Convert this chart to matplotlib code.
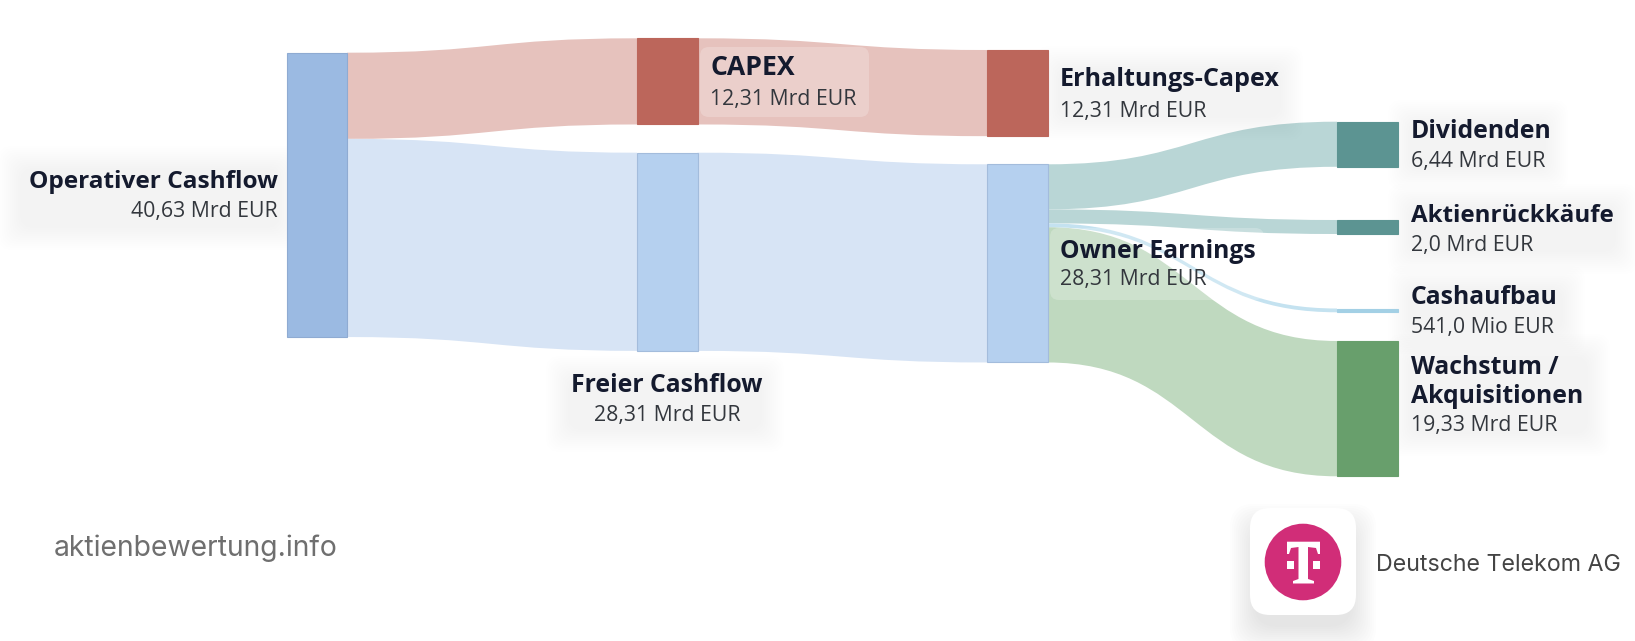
import matplotlib
matplotlib.use("Agg")
import matplotlib.pyplot as plt
from matplotlib.patches import Rectangle, PathPatch, FancyBboxPatch, Circle, Polygon
from matplotlib.path import Path

# values in Mrd EUR
operativer_cashflow = 40.63
capex = 12.31
erhaltungs_capex = 12.31
freier_cashflow = 28.31
owner_earnings = 28.31
dividenden = 6.44
aktienrueckkaeufe = 2.0
cashaufbau = 0.541
wachstum = 19.33

value_labels = ["40,63 Mrd EUR", "12,31 Mrd EUR", "12,31 Mrd EUR", "28,31 Mrd EUR",
                "28,31 Mrd EUR", "6,44 Mrd EUR", "2,0 Mrd EUR", "541,0 Mio EUR", "19,33 Mrd EUR"]

PX_PER_MRD = 7.0
NODE_W = 60.5
COL_X = [286.5, 637, 987, 1337]

C_OP = "#9bbae2"
C_FCF = "#b5d0ef"
C_FCF_LINK = "#d7e4f5"
C_RED = "#bc665b"
C_RED_LINK = "#e6c2bd"
C_TEAL = "#5c9492"
C_TEAL_LINK = "#b9d6d6"
C_CASH = "#a3d0e5"
C_CASH_LINK = "#c4e2f0"
C_GREEN = "#689f6c"
C_GREEN_LINK = "#bfd9bf"
C_DARK = "#141a2e"
C_SUB = "#33373d"

plt.rcParams["font.family"] = ["Open Sans", "DejaVu Sans"]

fig = plt.figure(figsize=(16.35, 6.41), dpi=100)
ax = fig.add_axes([0, 0, 1, 1])
ax.set_xlim(0, 1635)
ax.set_ylim(641, 0)
ax.axis("off")


def node(col, top, value, color, edge=None):
    h = value * PX_PER_MRD
    ax.add_patch(Rectangle((COL_X[col], top), NODE_W, h, fc=color, ec=edge or color, lw=0.8, zorder=3))


def link(col, y0, y1, value, color, z=1):
    h = value * PX_PER_MRD
    x0 = COL_X[col] + NODE_W
    x1 = COL_X[col + 1]
    xm = (x0 + x1) / 2
    verts = [(x0, y0), (xm, y0), (xm, y1), (x1, y1),
             (x1, y1 + h), (xm, y1 + h), (xm, y0 + h), (x0, y0 + h), (x0, y0)]
    codes = [Path.MOVETO, Path.CURVE4, Path.CURVE4, Path.CURVE4,
             Path.LINETO, Path.CURVE4, Path.CURVE4, Path.CURVE4, Path.CLOSEPOLY]
    ax.add_patch(PathPatch(Path(verts, codes), fc=color, ec="none", zorder=z))


def soft_box(x, y, w, h, z=2):
    # faint glow behind the labels, stacked boxes fading out
    for grow in range(16, -8, -2):
        ax.add_patch(FancyBboxPatch((x - grow, y - grow), w + 2 * grow, h + 2 * grow,
                                    boxstyle="round,pad=0,rounding_size=14", fc="#8a8f98",
                                    ec="none", alpha=0.0025, zorder=z))


def label(x, y_title, y_sub, title, sub, ha="left", size=17.8):
    ax.text(x, y_title, title, ha=ha, va="center", fontsize=size, fontweight="bold", color=C_DARK, zorder=7,
            linespacing=1.17)
    ax.text(x, y_sub, sub, ha=ha, va="center", fontsize=15.3, color=C_SUB, zorder=7)


# label backgrounds
soft_box(14, 162, 272, 72)
soft_box(562, 372, 206, 64)
soft_box(1052, 62, 235, 62)
soft_box(1404, 116, 148, 58)
soft_box(1404, 200, 218, 58)
soft_box(1404, 282, 165, 56)
soft_box(1404, 350, 190, 90)

# links
y_red0, y_fcf0 = 52.7, 52.7 + capex * PX_PER_MRD
link(0, y_red0, 38.3, capex, C_RED_LINK)
link(0, y_fcf0, 152.7, freier_cashflow, C_FCF_LINK)
link(1, 38.3, 50, erhaltungs_capex, C_RED_LINK)
link(1, 152.7, 164.3, freier_cashflow, C_FCF_LINK)

y = 164.3
link(2, y, 121.7, dividenden, C_TEAL_LINK)
y += dividenden * PX_PER_MRD
link(2, y, 220, aktienrueckkaeufe, C_TEAL_LINK)
y += aktienrueckkaeufe * PX_PER_MRD
link(2, y, 308.5, cashaufbau, C_CASH_LINK, z=2)
y += cashaufbau * PX_PER_MRD
link(2, y, 341, wachstum, C_GREEN_LINK)

# nodes
node(0, 52.7, operativer_cashflow, C_OP, "#8fabd2")
node(1, 38.3, capex, C_RED)
node(1, 152.7, freier_cashflow, C_FCF, "#a3bcdc")
node(2, 50, erhaltungs_capex, C_RED)
node(2, 164.3, owner_earnings, C_FCF, "#a3bcdc")
node(3, 121.7, dividenden, C_TEAL)
node(3, 220, aktienrueckkaeufe, C_TEAL)
node(3, 308.5, cashaufbau, C_CASH)
node(3, 341, wachstum, C_GREEN)

for bx, by, bw, bh in [(700, 47, 169, 70), (1050, 228, 214, 72)]:
    ax.add_patch(FancyBboxPatch((bx, by), bw, bh, boxstyle="round,pad=0,rounding_size=9",
                                fc="white", ec="none", alpha=0.22, zorder=4))

# labels
label(278, 182, 212, "Operativer Cashflow", value_labels[0], ha="right", size=17.6)
label(710, 68, 99, "CAPEX", value_labels[1], size=19.2)
label(1060, 80, 111, "Erhaltungs-Capex", value_labels[2], size=18.1)
label(667, 386, 415, "Freier Cashflow", value_labels[3], ha="center")
label(1060, 251, 280, "Owner Earnings", value_labels[4])
label(1411, 131, 161, "Dividenden", value_labels[5])
label(1411, 216, 245, "Aktienrückkäufe", value_labels[6], size=17.4)
label(1411, 298, 328, "Cashaufbau", value_labels[7])
label(1411, 382, 425, "Wachstum /\nAkquisitionen", value_labels[8])

# footer
ax.text(54, 548, "aktienbewertung.info", fontsize=20.4, family=["Inter", "DejaVu Sans"], color="#6f6f6f", va="center")
ax.text(1376.5, 565, "Deutsche Telekom AG", fontsize=16.7, family=["Inter", "DejaVu Sans"], color="#444444", va="center")

# logo
for grow in range(20, -6, -2):
    ax.add_patch(FancyBboxPatch((1250 - grow, 508 - grow + 16), 106 + 2 * grow, 107 + 2 * grow,
                                boxstyle="round,pad=0,rounding_size=24", fc="#777777", ec="none",
                                alpha=0.011, zorder=5))
ax.add_patch(FancyBboxPatch((1250, 508), 106, 107, boxstyle="round,pad=0,rounding_size=20",
                            fc="white", ec="none", zorder=6))
ax.add_patch(Circle((1303, 562), 38.3, fc="#d12d78", ec="none", zorder=7))
t_shape = [(1287, 541.7), (1320, 541.7), (1320, 554), (1318, 554), (1316, 548), (1308, 547), (1308, 579),
           (1314, 581), (1314, 583.5), (1293, 583.5), (1293, 581), (1298.5, 579), (1298.5, 547),
           (1291, 548), (1289, 554), (1287, 554)]
ax.add_patch(Polygon(t_shape, closed=True, fc="white", ec="none", zorder=8))
ax.add_patch(Rectangle((1287, 561), 6.5, 8, fc="white", ec="none", zorder=8))
ax.add_patch(Rectangle((1312.5, 561), 7.5, 8, fc="white", ec="none", zorder=8))

fig.savefig("out.png", dpi=100, facecolor="white")
